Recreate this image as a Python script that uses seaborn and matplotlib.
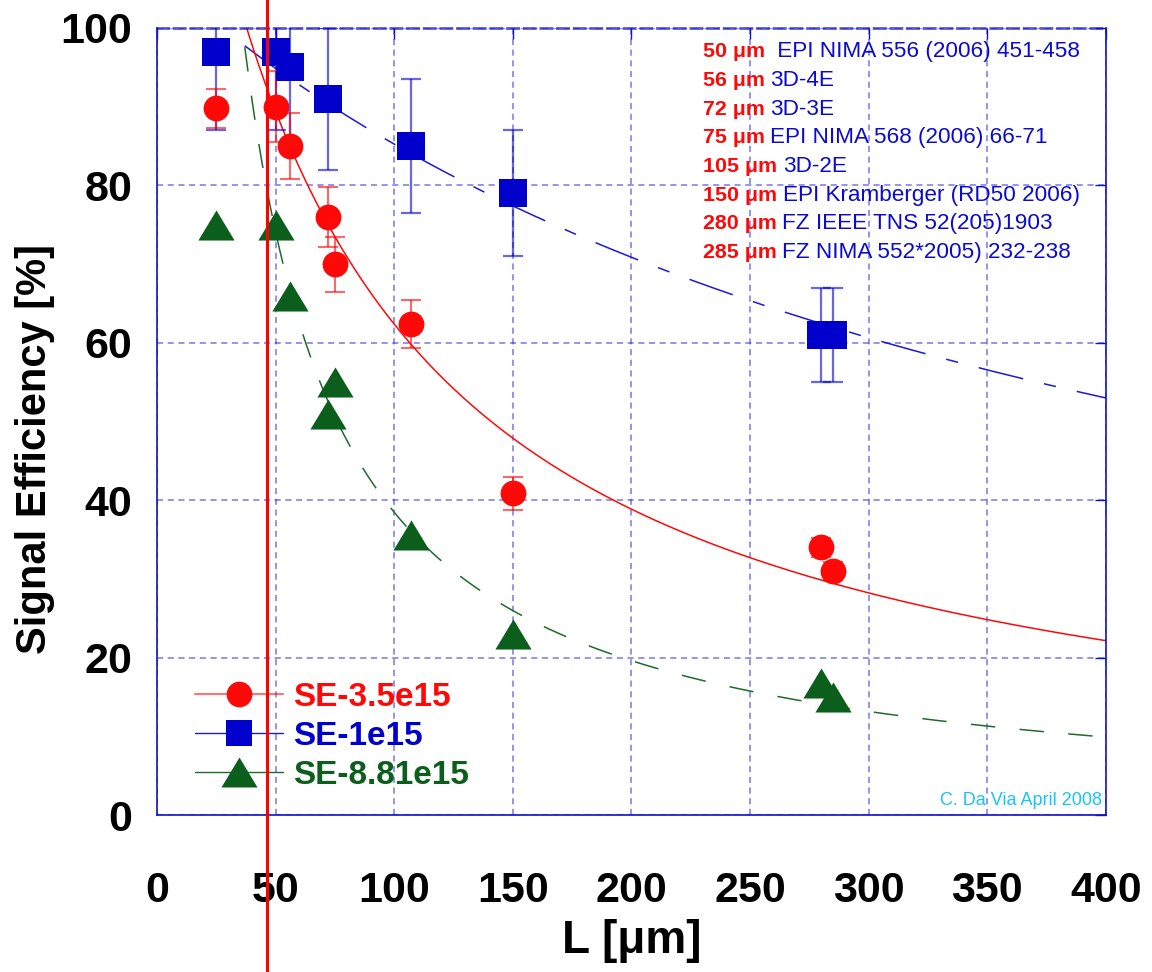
import numpy as np
import matplotlib
matplotlib.use("Agg")
import matplotlib.pyplot as plt
from matplotlib.lines import Line2D
from matplotlib.path import Path
import seaborn as sns

# ---- measured signal efficiency vs. electrode spacing L ----
L_1e15 = [25, 50, 56, 72, 107, 150, 280, 285]
se_1e15 = [97, 97, 95, 91, 85, 79, 61, 61]
err_1e15 = [10, 10, 10, 9, 8.5, 8, 6, 6]

L_35e15 = [25, 50, 56, 72, 75, 107, 150, 280, 285]
se_35e15 = [89.8, 90, 85, 76, 70, 62.4, 40.9, 34, 31]
err_35e15 = [2.5, 4.5, 4.2, 3.8, 3.5, 3.1, 2.1, 1.2, 1.2]

L_881e15 = [25, 50, 56, 72, 75, 107, 150, 280, 285]
se_881e15 = [75, 75, 66, 51, 55, 35.6, 23, 16.8, 15]

# ---- fitted curves SE = a / (L + b) ----
fit_1e15 = (42017, 392.9)
fit_35e15 = (10309, 65.3)
fit_881e15 = (4000, 4.0)
fit_range = (37, 400)

# ---- reference list ----
ref_lengths = ["50 \u03bcm", "56 \u03bcm", "72 \u03bcm", "75 \u03bcm",
               "105 \u03bcm", "150 \u03bcm", "280 \u03bcm", "285 \u03bcm"]
ref_sources = [" EPI NIMA 556 (2006) 451-458", "3D-4E", "3D-3E",
               "EPI NIMA 568 (2006) 66-71", "3D-2E",
               "EPI Kramberger (RD50 2006)", "FZ IEEE TNS 52(205)1903",
               "FZ NIMA 552*2005) 232-238"]

series_names = ["SE-3.5e15", "SE-1e15", "SE-8.81e15"]
x_ticks = [0, 50, 100, 150, 200, 250, 300, 350, 400]
y_ticks = [0, 20, 40, 60, 80, 100]
marker_line_L = 46.4

RED = "#FF0808"
BLUE = "#0000CD"
GREEN = "#0B5E1C"
GRID = "#2E2EE0"

sns.set_theme(style="white")
plt.rcParams["font.family"] = ["Liberation Sans", "DejaVu Sans"]

fig = plt.figure(figsize=(11.52, 9.72), dpi=100)
ax = fig.add_axes([0.1363, 0.1615, 0.8237, 0.8097])

# fitted curves
xf = np.linspace(fit_range[0], fit_range[1], 400)
sns.lineplot(x=xf, y=fit_1e15[0] / (xf + fit_1e15[1]), ax=ax, color="#1A1AD8",
             linewidth=1.1, linestyle=(0, (30, 14, 8, 14)), zorder=2)
sns.lineplot(x=xf, y=fit_35e15[0] / (xf + fit_35e15[1]), ax=ax, color=RED,
             linewidth=1.1, linestyle="-", zorder=2)
sns.lineplot(x=xf, y=fit_881e15[0] / (xf + fit_881e15[1]), ax=ax, color="#1E6B2A",
             linewidth=1.1, linestyle=(0, (16, 16)), zorder=2)

# error bars
ax.errorbar(L_1e15, se_1e15, yerr=err_1e15, fmt="none",
            ecolor=(0.0, 0.0, 0.85, 0.6), elinewidth=1.6, capsize=7,
            capthick=1.6, zorder=3)
ax.errorbar(L_35e15, se_35e15, yerr=err_35e15, fmt="none",
            ecolor=(1.0, 0.0, 0.0, 0.6), elinewidth=1.5, capsize=7,
            capthick=1.5, zorder=3)

# markers
tri = Path([(-1, -0.83), (1, -0.83), (0, 0.83), (-1, -0.83)],
           [Path.MOVETO, Path.LINETO, Path.LINETO, Path.CLOSEPOLY])
sns.scatterplot(x=L_881e15, y=se_881e15, ax=ax, color=GREEN, marker=tri,
                s=680, linewidth=0, zorder=4)
sns.scatterplot(x=L_1e15, y=se_1e15, ax=ax, color=BLUE, marker="s",
                s=380, linewidth=0, zorder=4)
sns.scatterplot(x=L_35e15, y=se_35e15, ax=ax, color=RED, marker="o",
                s=345, linewidth=0, zorder=5)

ax.set_xlim(0, 400)
ax.set_ylim(0, 100)
ax.set_xticks(x_ticks)
ax.set_yticks(y_ticks)
ax.set_xticklabels([str(v) for v in x_ticks])
ax.set_yticklabels([str(v) for v in y_ticks])

ax.grid(True, color=GRID, linestyle=(0, (4, 3)), linewidth=1.1, alpha=0.65)
ax.set_axisbelow(True)
for side, sp in ax.spines.items():
    sp.set_color("#1010D0")
    sp.set_linewidth(1.2)
ax.spines["top"].set_linestyle((0, (4, 2)))
ax.spines["top"].set_linewidth(2.0)
ax.spines["top"].set_alpha(0.7)

ax.tick_params(axis="both", direction="in", length=8, width=1, color="#1010D0",
               top=True, right=True, labelsize=31, labelcolor="black")
ax.tick_params(axis="x", pad=40)
ax.tick_params(axis="y", pad=18)
for lab in ax.get_xticklabels() + ax.get_yticklabels():
    lab.set_fontweight("bold")

ax.set_xlabel("L [\u03bcm]", fontsize=33, fontweight="bold", labelpad=6,
              color="black")
ax.set_ylabel("Signal Efficiency [%]", fontsize=30, fontweight="bold",
              color="black")
ax.yaxis.set_label_coords(-0.108, 0.465)

# reference list at upper right
y0 = 0.970
dy = 0.0365
for i, (ln, src) in enumerate(zip(ref_lengths, ref_sources)):
    t = ax.text(0.5753, y0 - i * dy, ln, transform=ax.transAxes, color=RED,
                fontsize=15.4, fontweight="bold", ha="left", va="center")
    ax.annotate(src, xy=(1, 0.5), xycoords=t, xytext=(4, 0),
                textcoords="offset points", color="#0A0AD0", fontsize=16.2,
                ha="left", va="center")

ax.text(0.9958, 0.0127, "C. Da Via April 2008", transform=ax.transAxes,
        ha="right", va="baseline", color="#19C3F2", fontsize=13)

# vertical marker line across the whole figure
ax.axvline(marker_line_L, ymin=-0.25, ymax=1.08, color="red", linewidth=2.2,
           clip_on=False, zorder=6)

# legend
handles = [
    Line2D([], [], color=(1, 0, 0, 0.55), linewidth=1.5, marker="o",
           markersize=18.5, markerfacecolor=RED, markeredgewidth=0),
    Line2D([], [], color="#1A1AD8", linewidth=1.0, marker="s",
           markersize=19.4, markerfacecolor=BLUE, markeredgewidth=0),
    Line2D([], [], color="#1E6B2A", linewidth=1.0, marker=tri,
           markersize=26, markerfacecolor=GREEN, markeredgewidth=0),
]
leg = ax.legend(handles, series_names, loc="upper left",
                bbox_to_anchor=(0.04, 0.169), frameon=False,
                prop={"weight": "bold", "size": 24}, handlelength=2.65,
                handletextpad=0.3, labelspacing=0.24, borderpad=0,
                borderaxespad=0)
for txt, col in zip(leg.get_texts(), [RED, BLUE, GREEN]):
    txt.set_color(col)

fig.savefig("out.png", dpi=100)
